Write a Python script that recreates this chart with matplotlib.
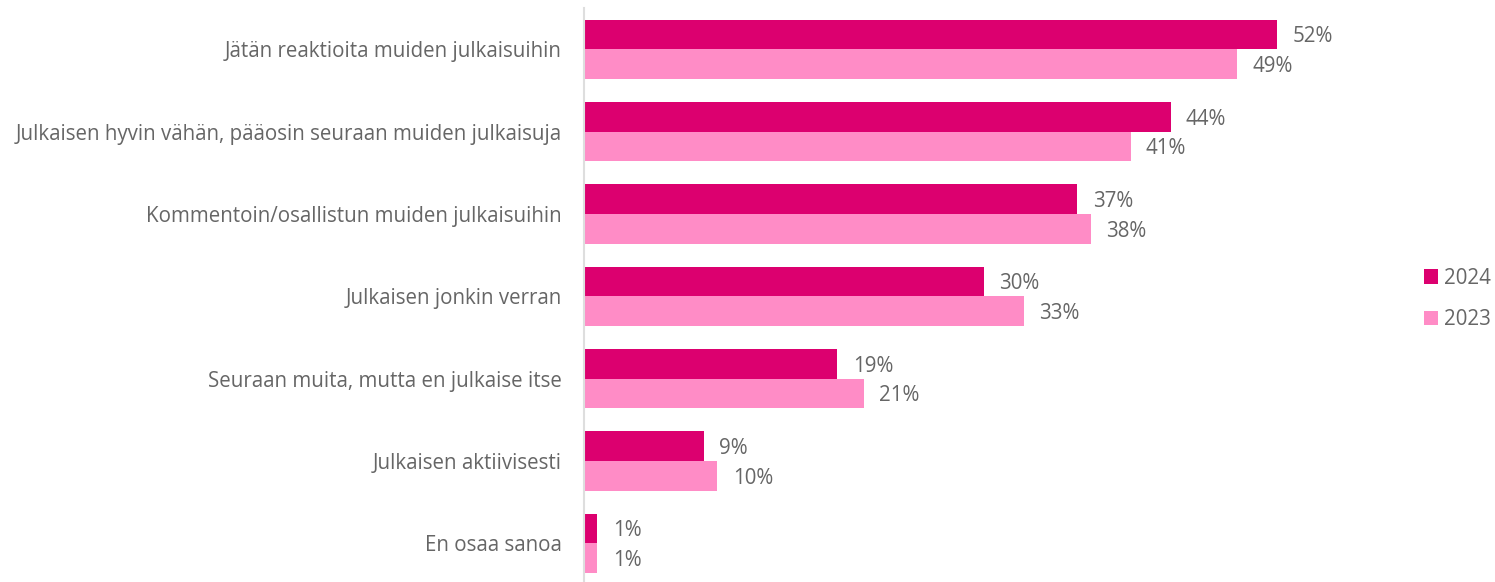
import matplotlib.pyplot as plt
import numpy as np

plt.rcParams['font.family'] = ['Open Sans', 'DejaVu Sans']

categories = [
    "Jätän reaktioita muiden julkaisuihin",
    "Julkaisen hyvin vähän, pääosin seuraan muiden julkaisuja",
    "Kommentoin/osallistun muiden julkaisuihin",
    "Julkaisen jonkin verran",
    "Seuraan muita, mutta en julkaise itse",
    "Julkaisen aktiivisesti",
    "En osaa sanoa",
]
values_2024 = [52, 44, 37, 30, 19, 9, 1]
values_2023 = [49, 41, 38, 33, 21, 10, 1]
series_names = ["2024", "2023"]

col_2024 = "#dc006f"
col_2023 = "#ff8cc6"
txt = "#666666"
fs = 14.8

fig = plt.figure(figsize=(14.95, 5.82), dpi=100)
ax = fig.add_axes([584 / 1495, 0.0, 800 / 1495, 574 / 582])

y = np.arange(len(categories))
h = 0.36
b1 = ax.barh(y - h / 2, values_2024, height=h, color=col_2024, label=series_names[0])
b2 = ax.barh(y + h / 2, values_2023, height=h, color=col_2023, label=series_names[1])

# value labels at the bar ends
for bars, vals in ((b1, values_2024), (b2, values_2023)):
    for bar, v in zip(bars, vals):
        ax.text(v + 1.15, bar.get_y() + bar.get_height() / 2, f"{v}%",
                va="center_baseline", ha="left", fontsize=fs, color=txt)

ax.set_ylim(6.47, -0.5)
ax.set_xlim(0, 60)
ax.set_yticks(y)
ax.set_yticklabels(categories, fontsize=fs, color=txt)
ax.tick_params(axis="y", length=0, pad=16)
ax.set_xticks([])
for s in ["top", "right", "bottom"]:
    ax.spines[s].set_visible(False)
ax.spines["left"].set_color("#dedede")
ax.spines["left"].set_linewidth(1.5)

leg = fig.legend(handles=[b1, b2], labels=series_names, loc="center left",
                 bbox_to_anchor=(1424 / 1495, 1 - 299 / 582), frameon=False,
                 fontsize=fs, handlelength=0.7, handleheight=0.7,
                 handletextpad=0.25, labelspacing=1.0, labelcolor=txt,
                 borderaxespad=0, borderpad=0)

fig.savefig("out.png", dpi=100)
